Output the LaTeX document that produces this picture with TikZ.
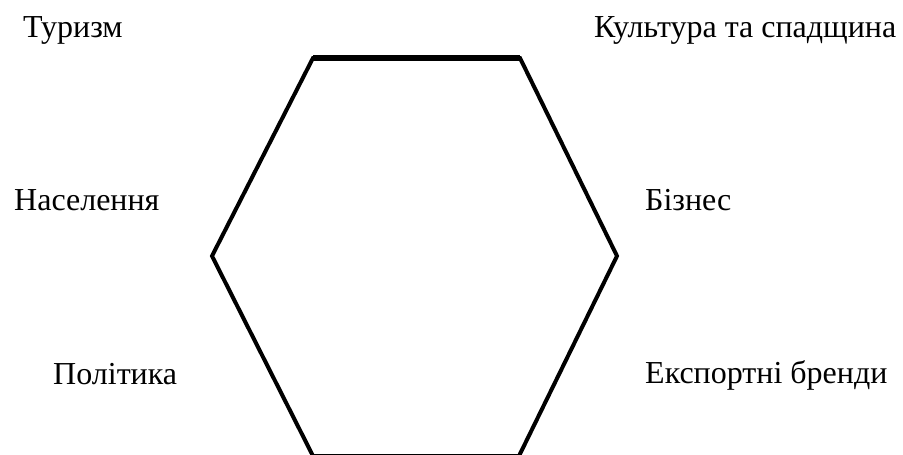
\documentclass[tikz,border=0pt]{standalone}
\usepackage{fontspec}
\setmainfont{Liberation Serif}
\begin{document}
\begin{tikzpicture}[x=1pt,y=-1pt,
  lbl/.style={anchor=base west,inner sep=0pt,font=\fontsize{32}{37}\selectfont},
  hexline/.style={line width=4pt,line join=miter}]
\useasboundingbox (0,0) rectangle (903,455);
\coordinate (tl) at (313,58);
\coordinate (tr) at (520,58);
\coordinate (r) at (617,256);
\coordinate (br) at (519,456);
\coordinate (bl) at (313,456);
\coordinate (l) at (212,256);
\draw[hexline] (tl) -- (tr) -- (r) -- (br) -- (bl) -- (l) -- cycle;
\draw[line width=6pt] (tl) -- (tr);
\node[lbl] (t1) at (23,37) {Туризм};
\node[lbl] (t2) at (594,37) {Культура та спадщина};
\node[lbl] (t3) at (14,210) {Населення};
\node[lbl] (t4) at (645,210) {Бізнес};
\node[lbl] (t5) at (53,384) {Політика};
\node[lbl] (t6) at (645,383) {Експортні бренди};
\end{tikzpicture}
\end{document}
